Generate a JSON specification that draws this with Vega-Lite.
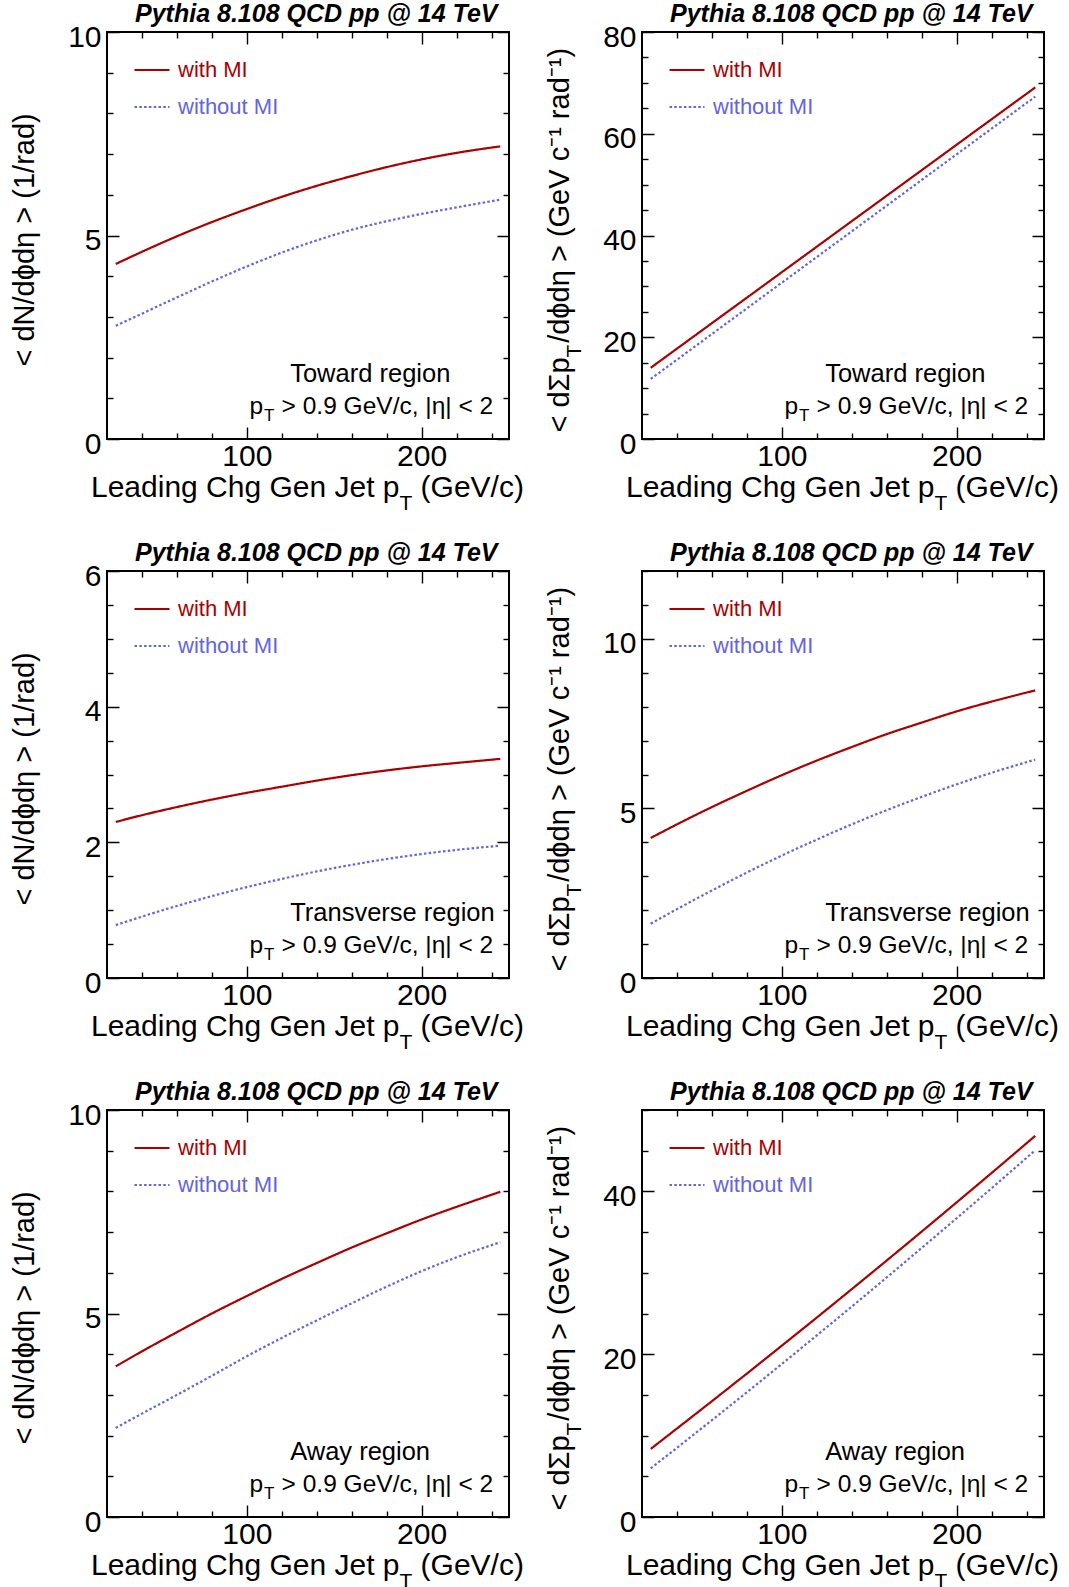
{
  "$schema": "https://vega.github.io/schema/vega-lite/v6.json",
  "background": "white",
  "padding": {"left": 8, "top": 0, "right": 4, "bottom": 0},
  "columns": 2,
  "spacing": {"row": 132, "column": 133},
  "bounds": "flush",
  "resolve": {"scale": {"color": "independent", "strokeDash": "independent"}},
  "datasets": {
    "towardN": [
      {"series": "with MI", "pt": 25, "val": 4.30}, {"series": "with MI", "pt": 40, "val": 4.60}, {"series": "with MI", "pt": 60, "val": 4.98}, {"series": "with MI", "pt": 80, "val": 5.33}, {"series": "with MI", "pt": 100, "val": 5.65}, {"series": "with MI", "pt": 120, "val": 5.95}, {"series": "with MI", "pt": 140, "val": 6.22}, {"series": "with MI", "pt": 160, "val": 6.46}, {"series": "with MI", "pt": 180, "val": 6.68}, {"series": "with MI", "pt": 200, "val": 6.87}, {"series": "with MI", "pt": 220, "val": 7.03}, {"series": "with MI", "pt": 245, "val": 7.19},
      {"series": "without MI", "pt": 25, "val": 2.78}, {"series": "without MI", "pt": 40, "val": 3.08}, {"series": "without MI", "pt": 60, "val": 3.48}, {"series": "without MI", "pt": 80, "val": 3.87}, {"series": "without MI", "pt": 100, "val": 4.24}, {"series": "without MI", "pt": 120, "val": 4.58}, {"series": "without MI", "pt": 140, "val": 4.88}, {"series": "without MI", "pt": 160, "val": 5.14}, {"series": "without MI", "pt": 180, "val": 5.35}, {"series": "without MI", "pt": 200, "val": 5.53}, {"series": "without MI", "pt": 220, "val": 5.69}, {"series": "without MI", "pt": 245, "val": 5.88}
    ],
    "towardSum": [
      {"series": "with MI", "pt": 25, "val": 14.0}, {"series": "with MI", "pt": 40, "val": 17.76}, {"series": "with MI", "pt": 60, "val": 22.77}, {"series": "with MI", "pt": 80, "val": 27.78}, {"series": "with MI", "pt": 100, "val": 32.79}, {"series": "with MI", "pt": 120, "val": 37.80}, {"series": "with MI", "pt": 140, "val": 42.81}, {"series": "with MI", "pt": 160, "val": 47.82}, {"series": "with MI", "pt": 180, "val": 52.83}, {"series": "with MI", "pt": 200, "val": 57.84}, {"series": "with MI", "pt": 220, "val": 62.85}, {"series": "with MI", "pt": 245, "val": 69.11},
      {"series": "without MI", "pt": 25, "val": 11.8}, {"series": "without MI", "pt": 40, "val": 15.58}, {"series": "without MI", "pt": 60, "val": 20.63}, {"series": "without MI", "pt": 80, "val": 25.68}, {"series": "without MI", "pt": 100, "val": 30.72}, {"series": "without MI", "pt": 120, "val": 35.77}, {"series": "without MI", "pt": 140, "val": 40.81}, {"series": "without MI", "pt": 160, "val": 45.86}, {"series": "without MI", "pt": 180, "val": 50.91}, {"series": "without MI", "pt": 200, "val": 55.95}, {"series": "without MI", "pt": 220, "val": 61.00}, {"series": "without MI", "pt": 245, "val": 67.30}
    ],
    "transN": [
      {"series": "with MI", "pt": 25, "val": 2.30}, {"series": "with MI", "pt": 40, "val": 2.40}, {"series": "with MI", "pt": 60, "val": 2.52}, {"series": "with MI", "pt": 80, "val": 2.63}, {"series": "with MI", "pt": 100, "val": 2.73}, {"series": "with MI", "pt": 120, "val": 2.82}, {"series": "with MI", "pt": 140, "val": 2.91}, {"series": "with MI", "pt": 160, "val": 2.99}, {"series": "with MI", "pt": 180, "val": 3.06}, {"series": "with MI", "pt": 200, "val": 3.12}, {"series": "with MI", "pt": 220, "val": 3.17}, {"series": "with MI", "pt": 245, "val": 3.23},
      {"series": "without MI", "pt": 25, "val": 0.78}, {"series": "without MI", "pt": 40, "val": 0.905}, {"series": "without MI", "pt": 60, "val": 1.062}, {"series": "without MI", "pt": 80, "val": 1.207}, {"series": "without MI", "pt": 100, "val": 1.34}, {"series": "without MI", "pt": 120, "val": 1.461}, {"series": "without MI", "pt": 140, "val": 1.571}, {"series": "without MI", "pt": 160, "val": 1.668}, {"series": "without MI", "pt": 180, "val": 1.754}, {"series": "without MI", "pt": 200, "val": 1.827}, {"series": "without MI", "pt": 220, "val": 1.889}, {"series": "without MI", "pt": 245, "val": 1.95}
    ],
    "transSum": [
      {"series": "with MI", "pt": 25, "val": 4.13}, {"series": "with MI", "pt": 40, "val": 4.53}, {"series": "with MI", "pt": 60, "val": 5.04}, {"series": "with MI", "pt": 80, "val": 5.52}, {"series": "with MI", "pt": 100, "val": 5.98}, {"series": "with MI", "pt": 120, "val": 6.41}, {"series": "with MI", "pt": 140, "val": 6.81}, {"series": "with MI", "pt": 160, "val": 7.19}, {"series": "with MI", "pt": 180, "val": 7.53}, {"series": "with MI", "pt": 200, "val": 7.86}, {"series": "with MI", "pt": 220, "val": 8.15}, {"series": "with MI", "pt": 245, "val": 8.48},
      {"series": "without MI", "pt": 25, "val": 1.60}, {"series": "without MI", "pt": 40, "val": 2.03}, {"series": "without MI", "pt": 60, "val": 2.58}, {"series": "without MI", "pt": 80, "val": 3.11}, {"series": "without MI", "pt": 100, "val": 3.61}, {"series": "without MI", "pt": 120, "val": 4.08}, {"series": "without MI", "pt": 140, "val": 4.53}, {"series": "without MI", "pt": 160, "val": 4.95}, {"series": "without MI", "pt": 180, "val": 5.34}, {"series": "without MI", "pt": 200, "val": 5.71}, {"series": "without MI", "pt": 220, "val": 6.05}, {"series": "without MI", "pt": 245, "val": 6.44}
    ],
    "awayN": [
      {"series": "with MI", "pt": 25, "val": 3.70}, {"series": "with MI", "pt": 40, "val": 4.07}, {"series": "with MI", "pt": 60, "val": 4.54}, {"series": "with MI", "pt": 80, "val": 5.00}, {"series": "with MI", "pt": 100, "val": 5.43}, {"series": "with MI", "pt": 120, "val": 5.85}, {"series": "with MI", "pt": 140, "val": 6.24}, {"series": "with MI", "pt": 160, "val": 6.62}, {"series": "with MI", "pt": 180, "val": 6.97}, {"series": "with MI", "pt": 200, "val": 7.31}, {"series": "with MI", "pt": 220, "val": 7.62}, {"series": "with MI", "pt": 245, "val": 7.99},
      {"series": "without MI", "pt": 25, "val": 2.19}, {"series": "without MI", "pt": 40, "val": 2.54}, {"series": "without MI", "pt": 60, "val": 3.00}, {"series": "without MI", "pt": 80, "val": 3.47}, {"series": "without MI", "pt": 100, "val": 3.95}, {"series": "without MI", "pt": 120, "val": 4.40}, {"series": "without MI", "pt": 140, "val": 4.83}, {"series": "without MI", "pt": 160, "val": 5.25}, {"series": "without MI", "pt": 180, "val": 5.66}, {"series": "without MI", "pt": 200, "val": 6.04}, {"series": "without MI", "pt": 220, "val": 6.38}, {"series": "without MI", "pt": 245, "val": 6.75}
    ],
    "awaySum": [
      {"series": "with MI", "pt": 25, "val": 8.37}, {"series": "with MI", "pt": 40, "val": 10.87}, {"series": "with MI", "pt": 60, "val": 14.23}, {"series": "with MI", "pt": 80, "val": 17.62}, {"series": "with MI", "pt": 100, "val": 21.05}, {"series": "with MI", "pt": 120, "val": 24.50}, {"series": "with MI", "pt": 140, "val": 27.99}, {"series": "with MI", "pt": 160, "val": 31.51}, {"series": "with MI", "pt": 180, "val": 35.06}, {"series": "with MI", "pt": 200, "val": 38.65}, {"series": "with MI", "pt": 220, "val": 42.26}, {"series": "with MI", "pt": 245, "val": 46.83},
      {"series": "without MI", "pt": 25, "val": 5.98}, {"series": "without MI", "pt": 40, "val": 8.50}, {"series": "without MI", "pt": 60, "val": 11.90}, {"series": "without MI", "pt": 80, "val": 15.33}, {"series": "without MI", "pt": 100, "val": 18.80}, {"series": "without MI", "pt": 120, "val": 22.31}, {"series": "without MI", "pt": 140, "val": 25.85}, {"series": "without MI", "pt": 160, "val": 29.43}, {"series": "without MI", "pt": 180, "val": 33.05}, {"series": "without MI", "pt": 200, "val": 36.70}, {"series": "without MI", "pt": 220, "val": 40.39}, {"series": "without MI", "pt": 245, "val": 45.05}
    ],
    "noteToward": [{"region": "Toward region", "p": "p", "sub": "T", "cut": "> 0.9 GeV/c, |η| < 2"}],
    "noteTrans": [{"region": "Transverse region", "p": "p", "sub": "T", "cut": "> 0.9 GeV/c, |η| < 2"}],
    "noteAway": [{"region": "Away region", "p": "p", "sub": "T", "cut": "> 0.9 GeV/c, |η| < 2"}]
  },
  "concat": [
    {
      "width": 402, "height": 407,
      "layer": [
        {
          "data": {"name": "towardN"},
          "mark": {"type": "line", "interpolate": "monotone", "strokeWidth": 2.2},
          "encoding": {
            "x": {"field": "pt", "type": "quantitative", "scale": {"domain": [20, 250], "nice": false, "zero": false}, "axis": {"orient": "bottom", "values": [40, 60, 80, 100, 120, 140, 160, 180, 200, 220, 240], "labelPadding": 14, "labelExpr": "datum.value % 100 === 0 ? format(datum.value, 'd') : ''", "tickDash": {"condition": {"test": "datum.value % 100 !== 0", "value": [6, 40]}, "value": [1, 0]}, "title": "Leading Chg Gen Jet p\u2002\u2009(GeV/c)", "titleX": -16.5, "titleY": 57, "titleAlign": "left", "titleBaseline": "alphabetic", "titleAngle": 0}},
            "y": {"field": "val", "type": "quantitative", "scale": {"domain": [0, 10], "nice": false, "zero": false}, "axis": {"orient": "left", "values": [0, 1, 2, 3, 4, 5, 6, 7, 8, 9, 10], "labelExpr": "datum.value % 5 === 0 ? format(datum.value, 'd') : ''", "labelOffset": 5, "tickDash": {"condition": {"test": "datum.value % 5 !== 0", "value": [6, 40]}, "value": [1, 0]}, "title": "< dN/dϕdη > (1/rad)", "titleX": -74, "titleY": 334, "titleAlign": "left", "titleAngle": 270, "titleBaseline": "alphabetic", "titleFontSize": 29}},
            "color": {"field": "series", "type": "nominal", "scale": {"domain": ["with MI", "without MI"], "range": ["#aa0000", "#6464dc"]}, "legend": {"title": null, "orient": "none", "legendX": 26, "legendY": 19, "symbolType": "stroke", "symbolSize": 1225, "symbolStrokeWidth": 2.2, "labelFont": "Liberation Sans", "labelFontSize": 22, "labelOffset": 7, "rowPadding": 7, "padding": 0, "encode": {"labels": {"update": {"fill": {"signal": "datum.value === 'with MI' ? '#aa0000' : '#6464dc'"}}}}}},
            "strokeDash": {"field": "series", "type": "nominal", "scale": {"domain": ["with MI", "without MI"], "range": [[1, 0], [2.5, 2.3]]}, "legend": {"title": null, "orient": "none", "legendX": 26, "legendY": 19, "symbolType": "stroke", "symbolSize": 1225, "symbolStrokeWidth": 2.2, "labelFont": "Liberation Sans", "labelFontSize": 22, "labelOffset": 7, "rowPadding": 7, "padding": 0}}
          }
        },
        {
          "data": {"name": "noteToward"},
          "mark": {"type": "text", "align": "left", "baseline": "alphabetic", "font": "Liberation Sans", "fontSize": 25.5, "color": "black"},
          "encoding": {
            "text": {"field": "region"},
            "x": {"datum": 124.8, "type": "quantitative", "scale": {"domain": [20, 250], "nice": false, "zero": false}, "axis": {"orient": "top", "values": [40, 60, 80, 100, 120, 140, 160, 180, 200, 220, 240], "labels": false, "tickDash": {"condition": {"test": "datum.value % 100 !== 0", "value": [6, 40]}, "value": [1, 0]}, "title": "Pythia 8.108 QCD pp @ 14 TeV", "titleX": 390, "titleY": -11, "titleAlign": "right", "titleBaseline": "alphabetic", "titleAngle": 0, "titleFontSize": 25, "titleFontWeight": "bold", "titleFontStyle": "italic"}},
            "y": {"datum": 1.40, "type": "quantitative", "scale": {"domain": [0, 10], "nice": false, "zero": false}, "axis": {"orient": "right", "values": [0, 1, 2, 3, 4, 5, 6, 7, 8, 9, 10], "labels": false, "tickDash": {"condition": {"test": "datum.value % 5 !== 0", "value": [6, 40]}, "value": [1, 0]}, "title": null}}
          }
        },
        {
          "data": {"name": "noteToward"},
          "mark": {"type": "text", "align": "left", "baseline": "alphabetic", "font": "Liberation Sans", "fontSize": 24.5, "color": "black"},
          "encoding": {"text": {"field": "p"}, "x": {"datum": 101.6, "type": "quantitative", "scale": {"domain": [20, 250], "nice": false, "zero": false}, "axis": {"orient": "bottom", "ticks": false, "labels": false, "domain": false, "title": "T", "titleX": 292, "titleY": 70, "titleAlign": "left", "titleBaseline": "alphabetic", "titleAngle": 0, "titleFontSize": 21}}, "y": {"datum": 0.614, "type": "quantitative", "scale": {"domain": [0, 10], "nice": false, "zero": false}, "axis": null}}
        },
        {
          "data": {"name": "noteToward"},
          "mark": {"type": "text", "align": "left", "baseline": "alphabetic", "font": "Liberation Sans", "fontSize": 17, "dx": 14.5, "dy": 7, "color": "black"},
          "encoding": {"text": {"field": "sub"}, "x": {"datum": 101.6, "type": "quantitative", "scale": {"domain": [20, 250], "nice": false, "zero": false}, "axis": null}, "y": {"datum": 0.614, "type": "quantitative", "scale": {"domain": [0, 10], "nice": false, "zero": false}, "axis": null}}
        },
        {
          "data": {"name": "noteToward"},
          "mark": {"type": "text", "align": "left", "baseline": "alphabetic", "font": "Liberation Sans", "fontSize": 24.5, "dx": 32, "color": "black"},
          "encoding": {"text": {"field": "cut"}, "x": {"datum": 101.6, "type": "quantitative", "scale": {"domain": [20, 250], "nice": false, "zero": false}, "axis": null}, "y": {"datum": 0.614, "type": "quantitative", "scale": {"domain": [0, 10], "nice": false, "zero": false}, "axis": null}}
        }
      ],
      "resolve": {"axis": {"x": "independent", "y": "independent"}}
    },
    {
      "width": 402, "height": 407,
      "layer": [
        {
          "data": {"name": "towardSum"},
          "mark": {"type": "line", "interpolate": "monotone", "strokeWidth": 2.2},
          "encoding": {
            "x": {"field": "pt", "type": "quantitative", "scale": {"domain": [20, 250], "nice": false, "zero": false}, "axis": {"orient": "bottom", "values": [40, 60, 80, 100, 120, 140, 160, 180, 200, 220, 240], "labelPadding": 14, "labelExpr": "datum.value % 100 === 0 ? format(datum.value, 'd') : ''", "tickDash": {"condition": {"test": "datum.value % 100 !== 0", "value": [6, 40]}, "value": [1, 0]}, "title": "Leading Chg Gen Jet p\u2002\u2009(GeV/c)", "titleX": -16.5, "titleY": 57, "titleAlign": "left", "titleBaseline": "alphabetic", "titleAngle": 0}},
            "y": {"field": "val", "type": "quantitative", "scale": {"domain": [0, 80], "nice": false, "zero": false}, "axis": {"orient": "left", "values": [0, 5, 10, 15, 20, 25, 30, 35, 40, 45, 50, 55, 60, 65, 70, 75, 80], "labelExpr": "datum.value % 20 === 0 ? format(datum.value, 'd') : ''", "labelOffset": 5, "tickDash": {"condition": {"test": "datum.value % 20 !== 0", "value": [6, 40]}, "value": [1, 0]}, "title": "< dΣp\u2002/dϕdη > (GeV c⁻¹ rad⁻¹)", "titleX": -74, "titleY": 400, "titleAlign": "left", "titleAngle": 270, "titleBaseline": "alphabetic", "titleFontSize": 29}},
            "color": {"field": "series", "type": "nominal", "scale": {"domain": ["with MI", "without MI"], "range": ["#aa0000", "#6464dc"]}, "legend": {"title": null, "orient": "none", "legendX": 26, "legendY": 19, "symbolType": "stroke", "symbolSize": 1225, "symbolStrokeWidth": 2.2, "labelFont": "Liberation Sans", "labelFontSize": 22, "labelOffset": 7, "rowPadding": 7, "padding": 0, "encode": {"labels": {"update": {"fill": {"signal": "datum.value === 'with MI' ? '#aa0000' : '#6464dc'"}}}}}},
            "strokeDash": {"field": "series", "type": "nominal", "scale": {"domain": ["with MI", "without MI"], "range": [[1, 0], [2.5, 2.3]]}, "legend": {"title": null, "orient": "none", "legendX": 26, "legendY": 19, "symbolType": "stroke", "symbolSize": 1225, "symbolStrokeWidth": 2.2, "labelFont": "Liberation Sans", "labelFontSize": 22, "labelOffset": 7, "rowPadding": 7, "padding": 0}}
          }
        },
        {
          "data": {"name": "noteToward"},
          "mark": {"type": "text", "align": "left", "baseline": "alphabetic", "font": "Liberation Sans", "fontSize": 25.5, "color": "black"},
          "encoding": {
            "text": {"field": "region"},
            "x": {"datum": 124.8, "type": "quantitative", "scale": {"domain": [20, 250], "nice": false, "zero": false}, "axis": {"orient": "top", "values": [40, 60, 80, 100, 120, 140, 160, 180, 200, 220, 240], "labels": false, "tickDash": {"condition": {"test": "datum.value % 100 !== 0", "value": [6, 40]}, "value": [1, 0]}, "title": "Pythia 8.108 QCD pp @ 14 TeV", "titleX": 390, "titleY": -11, "titleAlign": "right", "titleBaseline": "alphabetic", "titleAngle": 0, "titleFontSize": 25, "titleFontWeight": "bold", "titleFontStyle": "italic"}},
            "y": {"datum": 11.2, "type": "quantitative", "scale": {"domain": [0, 80], "nice": false, "zero": false}, "axis": {"orient": "right", "values": [0, 5, 10, 15, 20, 25, 30, 35, 40, 45, 50, 55, 60, 65, 70, 75, 80], "labels": false, "tickDash": {"condition": {"test": "datum.value % 20 !== 0", "value": [6, 40]}, "value": [1, 0]}, "title": "T", "titleX": -464, "titleY": 325, "titleAlign": "left", "titleBaseline": "alphabetic", "titleAngle": 270, "titleFontSize": 21}}
          }
        },
        {
          "data": {"name": "noteToward"},
          "mark": {"type": "text", "align": "left", "baseline": "alphabetic", "font": "Liberation Sans", "fontSize": 24.5, "color": "black"},
          "encoding": {"text": {"field": "p"}, "x": {"datum": 101.6, "type": "quantitative", "scale": {"domain": [20, 250], "nice": false, "zero": false}, "axis": {"orient": "bottom", "ticks": false, "labels": false, "domain": false, "title": "T", "titleX": 292, "titleY": 70, "titleAlign": "left", "titleBaseline": "alphabetic", "titleAngle": 0, "titleFontSize": 21}}, "y": {"datum": 4.91, "type": "quantitative", "scale": {"domain": [0, 80], "nice": false, "zero": false}, "axis": null}}
        },
        {
          "data": {"name": "noteToward"},
          "mark": {"type": "text", "align": "left", "baseline": "alphabetic", "font": "Liberation Sans", "fontSize": 17, "dx": 14.5, "dy": 7, "color": "black"},
          "encoding": {"text": {"field": "sub"}, "x": {"datum": 101.6, "type": "quantitative", "scale": {"domain": [20, 250], "nice": false, "zero": false}, "axis": null}, "y": {"datum": 4.91, "type": "quantitative", "scale": {"domain": [0, 80], "nice": false, "zero": false}, "axis": null}}
        },
        {
          "data": {"name": "noteToward"},
          "mark": {"type": "text", "align": "left", "baseline": "alphabetic", "font": "Liberation Sans", "fontSize": 24.5, "dx": 32, "color": "black"},
          "encoding": {"text": {"field": "cut"}, "x": {"datum": 101.6, "type": "quantitative", "scale": {"domain": [20, 250], "nice": false, "zero": false}, "axis": null}, "y": {"datum": 4.91, "type": "quantitative", "scale": {"domain": [0, 80], "nice": false, "zero": false}, "axis": null}}
        }
      ],
      "resolve": {"axis": {"x": "independent", "y": "independent"}}
    },
    {
      "width": 402, "height": 407,
      "layer": [
        {
          "data": {"name": "transN"},
          "mark": {"type": "line", "interpolate": "monotone", "strokeWidth": 2.2},
          "encoding": {
            "x": {"field": "pt", "type": "quantitative", "scale": {"domain": [20, 250], "nice": false, "zero": false}, "axis": {"orient": "bottom", "values": [40, 60, 80, 100, 120, 140, 160, 180, 200, 220, 240], "labelPadding": 14, "labelExpr": "datum.value % 100 === 0 ? format(datum.value, 'd') : ''", "tickDash": {"condition": {"test": "datum.value % 100 !== 0", "value": [6, 40]}, "value": [1, 0]}, "title": "Leading Chg Gen Jet p\u2002\u2009(GeV/c)", "titleX": -16.5, "titleY": 57, "titleAlign": "left", "titleBaseline": "alphabetic", "titleAngle": 0}},
            "y": {"field": "val", "type": "quantitative", "scale": {"domain": [0, 6], "nice": false, "zero": false}, "axis": {"orient": "left", "values": [0, 0.5, 1, 1.5, 2, 2.5, 3, 3.5, 4, 4.5, 5, 5.5, 6], "labelExpr": "datum.value % 2 === 0 ? format(datum.value, 'd') : ''", "labelOffset": 5, "tickDash": {"condition": {"test": "datum.value % 2 !== 0", "value": [6, 40]}, "value": [1, 0]}, "title": "< dN/dϕdη > (1/rad)", "titleX": -74, "titleY": 334, "titleAlign": "left", "titleAngle": 270, "titleBaseline": "alphabetic", "titleFontSize": 29}},
            "color": {"field": "series", "type": "nominal", "scale": {"domain": ["with MI", "without MI"], "range": ["#aa0000", "#6464dc"]}, "legend": {"title": null, "orient": "none", "legendX": 26, "legendY": 19, "symbolType": "stroke", "symbolSize": 1225, "symbolStrokeWidth": 2.2, "labelFont": "Liberation Sans", "labelFontSize": 22, "labelOffset": 7, "rowPadding": 7, "padding": 0, "encode": {"labels": {"update": {"fill": {"signal": "datum.value === 'with MI' ? '#aa0000' : '#6464dc'"}}}}}},
            "strokeDash": {"field": "series", "type": "nominal", "scale": {"domain": ["with MI", "without MI"], "range": [[1, 0], [2.5, 2.3]]}, "legend": {"title": null, "orient": "none", "legendX": 26, "legendY": 19, "symbolType": "stroke", "symbolSize": 1225, "symbolStrokeWidth": 2.2, "labelFont": "Liberation Sans", "labelFontSize": 22, "labelOffset": 7, "rowPadding": 7, "padding": 0}}
          }
        },
        {
          "data": {"name": "noteTrans"},
          "mark": {"type": "text", "align": "left", "baseline": "alphabetic", "font": "Liberation Sans", "fontSize": 25.5, "color": "black"},
          "encoding": {
            "text": {"field": "region"},
            "x": {"datum": 124.8, "type": "quantitative", "scale": {"domain": [20, 250], "nice": false, "zero": false}, "axis": {"orient": "top", "values": [40, 60, 80, 100, 120, 140, 160, 180, 200, 220, 240], "labels": false, "tickDash": {"condition": {"test": "datum.value % 100 !== 0", "value": [6, 40]}, "value": [1, 0]}, "title": "Pythia 8.108 QCD pp @ 14 TeV", "titleX": 390, "titleY": -11, "titleAlign": "right", "titleBaseline": "alphabetic", "titleAngle": 0, "titleFontSize": 25, "titleFontWeight": "bold", "titleFontStyle": "italic"}},
            "y": {"datum": 0.84, "type": "quantitative", "scale": {"domain": [0, 6], "nice": false, "zero": false}, "axis": {"orient": "right", "values": [0, 0.5, 1, 1.5, 2, 2.5, 3, 3.5, 4, 4.5, 5, 5.5, 6], "labels": false, "tickDash": {"condition": {"test": "datum.value % 2 !== 0", "value": [6, 40]}, "value": [1, 0]}, "title": null}}
          }
        },
        {
          "data": {"name": "noteTrans"},
          "mark": {"type": "text", "align": "left", "baseline": "alphabetic", "font": "Liberation Sans", "fontSize": 24.5, "color": "black"},
          "encoding": {"text": {"field": "p"}, "x": {"datum": 101.6, "type": "quantitative", "scale": {"domain": [20, 250], "nice": false, "zero": false}, "axis": {"orient": "bottom", "ticks": false, "labels": false, "domain": false, "title": "T", "titleX": 292, "titleY": 70, "titleAlign": "left", "titleBaseline": "alphabetic", "titleAngle": 0, "titleFontSize": 21}}, "y": {"datum": 0.368, "type": "quantitative", "scale": {"domain": [0, 6], "nice": false, "zero": false}, "axis": null}}
        },
        {
          "data": {"name": "noteTrans"},
          "mark": {"type": "text", "align": "left", "baseline": "alphabetic", "font": "Liberation Sans", "fontSize": 17, "dx": 14.5, "dy": 7, "color": "black"},
          "encoding": {"text": {"field": "sub"}, "x": {"datum": 101.6, "type": "quantitative", "scale": {"domain": [20, 250], "nice": false, "zero": false}, "axis": null}, "y": {"datum": 0.368, "type": "quantitative", "scale": {"domain": [0, 6], "nice": false, "zero": false}, "axis": null}}
        },
        {
          "data": {"name": "noteTrans"},
          "mark": {"type": "text", "align": "left", "baseline": "alphabetic", "font": "Liberation Sans", "fontSize": 24.5, "dx": 32, "color": "black"},
          "encoding": {"text": {"field": "cut"}, "x": {"datum": 101.6, "type": "quantitative", "scale": {"domain": [20, 250], "nice": false, "zero": false}, "axis": null}, "y": {"datum": 0.368, "type": "quantitative", "scale": {"domain": [0, 6], "nice": false, "zero": false}, "axis": null}}
        }
      ],
      "resolve": {"axis": {"x": "independent", "y": "independent"}}
    },
    {
      "width": 402, "height": 407,
      "layer": [
        {
          "data": {"name": "transSum"},
          "mark": {"type": "line", "interpolate": "monotone", "strokeWidth": 2.2},
          "encoding": {
            "x": {"field": "pt", "type": "quantitative", "scale": {"domain": [20, 250], "nice": false, "zero": false}, "axis": {"orient": "bottom", "values": [40, 60, 80, 100, 120, 140, 160, 180, 200, 220, 240], "labelPadding": 14, "labelExpr": "datum.value % 100 === 0 ? format(datum.value, 'd') : ''", "tickDash": {"condition": {"test": "datum.value % 100 !== 0", "value": [6, 40]}, "value": [1, 0]}, "title": "Leading Chg Gen Jet p\u2002\u2009(GeV/c)", "titleX": -16.5, "titleY": 57, "titleAlign": "left", "titleBaseline": "alphabetic", "titleAngle": 0}},
            "y": {"field": "val", "type": "quantitative", "scale": {"domain": [0, 12], "nice": false, "zero": false}, "axis": {"orient": "left", "values": [0, 1, 2, 3, 4, 5, 6, 7, 8, 9, 10, 11, 12], "labelExpr": "datum.value % 5 === 0 ? format(datum.value, 'd') : ''", "labelOffset": 5, "tickDash": {"condition": {"test": "datum.value % 5 !== 0", "value": [6, 40]}, "value": [1, 0]}, "title": "< dΣp\u2002/dϕdη > (GeV c⁻¹ rad⁻¹)", "titleX": -74, "titleY": 400, "titleAlign": "left", "titleAngle": 270, "titleBaseline": "alphabetic", "titleFontSize": 29}},
            "color": {"field": "series", "type": "nominal", "scale": {"domain": ["with MI", "without MI"], "range": ["#aa0000", "#6464dc"]}, "legend": {"title": null, "orient": "none", "legendX": 26, "legendY": 19, "symbolType": "stroke", "symbolSize": 1225, "symbolStrokeWidth": 2.2, "labelFont": "Liberation Sans", "labelFontSize": 22, "labelOffset": 7, "rowPadding": 7, "padding": 0, "encode": {"labels": {"update": {"fill": {"signal": "datum.value === 'with MI' ? '#aa0000' : '#6464dc'"}}}}}},
            "strokeDash": {"field": "series", "type": "nominal", "scale": {"domain": ["with MI", "without MI"], "range": [[1, 0], [2.5, 2.3]]}, "legend": {"title": null, "orient": "none", "legendX": 26, "legendY": 19, "symbolType": "stroke", "symbolSize": 1225, "symbolStrokeWidth": 2.2, "labelFont": "Liberation Sans", "labelFontSize": 22, "labelOffset": 7, "rowPadding": 7, "padding": 0}}
          }
        },
        {
          "data": {"name": "noteTrans"},
          "mark": {"type": "text", "align": "left", "baseline": "alphabetic", "font": "Liberation Sans", "fontSize": 25.5, "color": "black"},
          "encoding": {
            "text": {"field": "region"},
            "x": {"datum": 124.8, "type": "quantitative", "scale": {"domain": [20, 250], "nice": false, "zero": false}, "axis": {"orient": "top", "values": [40, 60, 80, 100, 120, 140, 160, 180, 200, 220, 240], "labels": false, "tickDash": {"condition": {"test": "datum.value % 100 !== 0", "value": [6, 40]}, "value": [1, 0]}, "title": "Pythia 8.108 QCD pp @ 14 TeV", "titleX": 390, "titleY": -11, "titleAlign": "right", "titleBaseline": "alphabetic", "titleAngle": 0, "titleFontSize": 25, "titleFontWeight": "bold", "titleFontStyle": "italic"}},
            "y": {"datum": 1.68, "type": "quantitative", "scale": {"domain": [0, 12], "nice": false, "zero": false}, "axis": {"orient": "right", "values": [0, 1, 2, 3, 4, 5, 6, 7, 8, 9, 10, 11, 12], "labels": false, "tickDash": {"condition": {"test": "datum.value % 5 !== 0", "value": [6, 40]}, "value": [1, 0]}, "title": "T", "titleX": -464, "titleY": 325, "titleAlign": "left", "titleBaseline": "alphabetic", "titleAngle": 270, "titleFontSize": 21}}
          }
        },
        {
          "data": {"name": "noteTrans"},
          "mark": {"type": "text", "align": "left", "baseline": "alphabetic", "font": "Liberation Sans", "fontSize": 24.5, "color": "black"},
          "encoding": {"text": {"field": "p"}, "x": {"datum": 101.6, "type": "quantitative", "scale": {"domain": [20, 250], "nice": false, "zero": false}, "axis": {"orient": "bottom", "ticks": false, "labels": false, "domain": false, "title": "T", "titleX": 292, "titleY": 70, "titleAlign": "left", "titleBaseline": "alphabetic", "titleAngle": 0, "titleFontSize": 21}}, "y": {"datum": 0.737, "type": "quantitative", "scale": {"domain": [0, 12], "nice": false, "zero": false}, "axis": null}}
        },
        {
          "data": {"name": "noteTrans"},
          "mark": {"type": "text", "align": "left", "baseline": "alphabetic", "font": "Liberation Sans", "fontSize": 17, "dx": 14.5, "dy": 7, "color": "black"},
          "encoding": {"text": {"field": "sub"}, "x": {"datum": 101.6, "type": "quantitative", "scale": {"domain": [20, 250], "nice": false, "zero": false}, "axis": null}, "y": {"datum": 0.737, "type": "quantitative", "scale": {"domain": [0, 12], "nice": false, "zero": false}, "axis": null}}
        },
        {
          "data": {"name": "noteTrans"},
          "mark": {"type": "text", "align": "left", "baseline": "alphabetic", "font": "Liberation Sans", "fontSize": 24.5, "dx": 32, "color": "black"},
          "encoding": {"text": {"field": "cut"}, "x": {"datum": 101.6, "type": "quantitative", "scale": {"domain": [20, 250], "nice": false, "zero": false}, "axis": null}, "y": {"datum": 0.737, "type": "quantitative", "scale": {"domain": [0, 12], "nice": false, "zero": false}, "axis": null}}
        }
      ],
      "resolve": {"axis": {"x": "independent", "y": "independent"}}
    },
    {
      "width": 402, "height": 407,
      "layer": [
        {
          "data": {"name": "awayN"},
          "mark": {"type": "line", "interpolate": "monotone", "strokeWidth": 2.2},
          "encoding": {
            "x": {"field": "pt", "type": "quantitative", "scale": {"domain": [20, 250], "nice": false, "zero": false}, "axis": {"orient": "bottom", "values": [40, 60, 80, 100, 120, 140, 160, 180, 200, 220, 240], "labelPadding": 14, "labelExpr": "datum.value % 100 === 0 ? format(datum.value, 'd') : ''", "tickDash": {"condition": {"test": "datum.value % 100 !== 0", "value": [6, 40]}, "value": [1, 0]}, "title": "Leading Chg Gen Jet p\u2002\u2009(GeV/c)", "titleX": -16.5, "titleY": 57, "titleAlign": "left", "titleBaseline": "alphabetic", "titleAngle": 0}},
            "y": {"field": "val", "type": "quantitative", "scale": {"domain": [0, 10], "nice": false, "zero": false}, "axis": {"orient": "left", "values": [0, 1, 2, 3, 4, 5, 6, 7, 8, 9, 10], "labelExpr": "datum.value % 5 === 0 ? format(datum.value, 'd') : ''", "labelOffset": 5, "tickDash": {"condition": {"test": "datum.value % 5 !== 0", "value": [6, 40]}, "value": [1, 0]}, "title": "< dN/dϕdη > (1/rad)", "titleX": -74, "titleY": 334, "titleAlign": "left", "titleAngle": 270, "titleBaseline": "alphabetic", "titleFontSize": 29}},
            "color": {"field": "series", "type": "nominal", "scale": {"domain": ["with MI", "without MI"], "range": ["#aa0000", "#6464dc"]}, "legend": {"title": null, "orient": "none", "legendX": 26, "legendY": 19, "symbolType": "stroke", "symbolSize": 1225, "symbolStrokeWidth": 2.2, "labelFont": "Liberation Sans", "labelFontSize": 22, "labelOffset": 7, "rowPadding": 7, "padding": 0, "encode": {"labels": {"update": {"fill": {"signal": "datum.value === 'with MI' ? '#aa0000' : '#6464dc'"}}}}}},
            "strokeDash": {"field": "series", "type": "nominal", "scale": {"domain": ["with MI", "without MI"], "range": [[1, 0], [2.5, 2.3]]}, "legend": {"title": null, "orient": "none", "legendX": 26, "legendY": 19, "symbolType": "stroke", "symbolSize": 1225, "symbolStrokeWidth": 2.2, "labelFont": "Liberation Sans", "labelFontSize": 22, "labelOffset": 7, "rowPadding": 7, "padding": 0}}
          }
        },
        {
          "data": {"name": "noteAway"},
          "mark": {"type": "text", "align": "left", "baseline": "alphabetic", "font": "Liberation Sans", "fontSize": 25.5, "color": "black"},
          "encoding": {
            "text": {"field": "region"},
            "x": {"datum": 124.8, "type": "quantitative", "scale": {"domain": [20, 250], "nice": false, "zero": false}, "axis": {"orient": "top", "values": [40, 60, 80, 100, 120, 140, 160, 180, 200, 220, 240], "labels": false, "tickDash": {"condition": {"test": "datum.value % 100 !== 0", "value": [6, 40]}, "value": [1, 0]}, "title": "Pythia 8.108 QCD pp @ 14 TeV", "titleX": 390, "titleY": -11, "titleAlign": "right", "titleBaseline": "alphabetic", "titleAngle": 0, "titleFontSize": 25, "titleFontWeight": "bold", "titleFontStyle": "italic"}},
            "y": {"datum": 1.40, "type": "quantitative", "scale": {"domain": [0, 10], "nice": false, "zero": false}, "axis": {"orient": "right", "values": [0, 1, 2, 3, 4, 5, 6, 7, 8, 9, 10], "labels": false, "tickDash": {"condition": {"test": "datum.value % 5 !== 0", "value": [6, 40]}, "value": [1, 0]}, "title": null}}
          }
        },
        {
          "data": {"name": "noteAway"},
          "mark": {"type": "text", "align": "left", "baseline": "alphabetic", "font": "Liberation Sans", "fontSize": 24.5, "color": "black"},
          "encoding": {"text": {"field": "p"}, "x": {"datum": 101.6, "type": "quantitative", "scale": {"domain": [20, 250], "nice": false, "zero": false}, "axis": {"orient": "bottom", "ticks": false, "labels": false, "domain": false, "title": "T", "titleX": 292, "titleY": 70, "titleAlign": "left", "titleBaseline": "alphabetic", "titleAngle": 0, "titleFontSize": 21}}, "y": {"datum": 0.614, "type": "quantitative", "scale": {"domain": [0, 10], "nice": false, "zero": false}, "axis": null}}
        },
        {
          "data": {"name": "noteAway"},
          "mark": {"type": "text", "align": "left", "baseline": "alphabetic", "font": "Liberation Sans", "fontSize": 17, "dx": 14.5, "dy": 7, "color": "black"},
          "encoding": {"text": {"field": "sub"}, "x": {"datum": 101.6, "type": "quantitative", "scale": {"domain": [20, 250], "nice": false, "zero": false}, "axis": null}, "y": {"datum": 0.614, "type": "quantitative", "scale": {"domain": [0, 10], "nice": false, "zero": false}, "axis": null}}
        },
        {
          "data": {"name": "noteAway"},
          "mark": {"type": "text", "align": "left", "baseline": "alphabetic", "font": "Liberation Sans", "fontSize": 24.5, "dx": 32, "color": "black"},
          "encoding": {"text": {"field": "cut"}, "x": {"datum": 101.6, "type": "quantitative", "scale": {"domain": [20, 250], "nice": false, "zero": false}, "axis": null}, "y": {"datum": 0.614, "type": "quantitative", "scale": {"domain": [0, 10], "nice": false, "zero": false}, "axis": null}}
        }
      ],
      "resolve": {"axis": {"x": "independent", "y": "independent"}}
    },
    {
      "width": 402, "height": 407,
      "layer": [
        {
          "data": {"name": "awaySum"},
          "mark": {"type": "line", "interpolate": "monotone", "strokeWidth": 2.2},
          "encoding": {
            "x": {"field": "pt", "type": "quantitative", "scale": {"domain": [20, 250], "nice": false, "zero": false}, "axis": {"orient": "bottom", "values": [40, 60, 80, 100, 120, 140, 160, 180, 200, 220, 240], "labelPadding": 14, "labelExpr": "datum.value % 100 === 0 ? format(datum.value, 'd') : ''", "tickDash": {"condition": {"test": "datum.value % 100 !== 0", "value": [6, 40]}, "value": [1, 0]}, "title": "Leading Chg Gen Jet p\u2002\u2009(GeV/c)", "titleX": -16.5, "titleY": 57, "titleAlign": "left", "titleBaseline": "alphabetic", "titleAngle": 0}},
            "y": {"field": "val", "type": "quantitative", "scale": {"domain": [0, 50], "nice": false, "zero": false}, "axis": {"orient": "left", "values": [0, 5, 10, 15, 20, 25, 30, 35, 40, 45, 50], "labelExpr": "datum.value % 20 === 0 ? format(datum.value, 'd') : ''", "labelOffset": 5, "tickDash": {"condition": {"test": "datum.value % 20 !== 0", "value": [6, 40]}, "value": [1, 0]}, "title": "< dΣp\u2002/dϕdη > (GeV c⁻¹ rad⁻¹)", "titleX": -74, "titleY": 400, "titleAlign": "left", "titleAngle": 270, "titleBaseline": "alphabetic", "titleFontSize": 29}},
            "color": {"field": "series", "type": "nominal", "scale": {"domain": ["with MI", "without MI"], "range": ["#aa0000", "#6464dc"]}, "legend": {"title": null, "orient": "none", "legendX": 26, "legendY": 19, "symbolType": "stroke", "symbolSize": 1225, "symbolStrokeWidth": 2.2, "labelFont": "Liberation Sans", "labelFontSize": 22, "labelOffset": 7, "rowPadding": 7, "padding": 0, "encode": {"labels": {"update": {"fill": {"signal": "datum.value === 'with MI' ? '#aa0000' : '#6464dc'"}}}}}},
            "strokeDash": {"field": "series", "type": "nominal", "scale": {"domain": ["with MI", "without MI"], "range": [[1, 0], [2.5, 2.3]]}, "legend": {"title": null, "orient": "none", "legendX": 26, "legendY": 19, "symbolType": "stroke", "symbolSize": 1225, "symbolStrokeWidth": 2.2, "labelFont": "Liberation Sans", "labelFontSize": 22, "labelOffset": 7, "rowPadding": 7, "padding": 0}}
          }
        },
        {
          "data": {"name": "noteAway"},
          "mark": {"type": "text", "align": "left", "baseline": "alphabetic", "font": "Liberation Sans", "fontSize": 25.5, "color": "black"},
          "encoding": {
            "text": {"field": "region"},
            "x": {"datum": 124.8, "type": "quantitative", "scale": {"domain": [20, 250], "nice": false, "zero": false}, "axis": {"orient": "top", "values": [40, 60, 80, 100, 120, 140, 160, 180, 200, 220, 240], "labels": false, "tickDash": {"condition": {"test": "datum.value % 100 !== 0", "value": [6, 40]}, "value": [1, 0]}, "title": "Pythia 8.108 QCD pp @ 14 TeV", "titleX": 390, "titleY": -11, "titleAlign": "right", "titleBaseline": "alphabetic", "titleAngle": 0, "titleFontSize": 25, "titleFontWeight": "bold", "titleFontStyle": "italic"}},
            "y": {"datum": 7.0, "type": "quantitative", "scale": {"domain": [0, 50], "nice": false, "zero": false}, "axis": {"orient": "right", "values": [0, 5, 10, 15, 20, 25, 30, 35, 40, 45, 50], "labels": false, "tickDash": {"condition": {"test": "datum.value % 20 !== 0", "value": [6, 40]}, "value": [1, 0]}, "title": "T", "titleX": -464, "titleY": 325, "titleAlign": "left", "titleBaseline": "alphabetic", "titleAngle": 270, "titleFontSize": 21}}
          }
        },
        {
          "data": {"name": "noteAway"},
          "mark": {"type": "text", "align": "left", "baseline": "alphabetic", "font": "Liberation Sans", "fontSize": 24.5, "color": "black"},
          "encoding": {"text": {"field": "p"}, "x": {"datum": 101.6, "type": "quantitative", "scale": {"domain": [20, 250], "nice": false, "zero": false}, "axis": {"orient": "bottom", "ticks": false, "labels": false, "domain": false, "title": "T", "titleX": 292, "titleY": 70, "titleAlign": "left", "titleBaseline": "alphabetic", "titleAngle": 0, "titleFontSize": 21}}, "y": {"datum": 3.07, "type": "quantitative", "scale": {"domain": [0, 50], "nice": false, "zero": false}, "axis": null}}
        },
        {
          "data": {"name": "noteAway"},
          "mark": {"type": "text", "align": "left", "baseline": "alphabetic", "font": "Liberation Sans", "fontSize": 17, "dx": 14.5, "dy": 7, "color": "black"},
          "encoding": {"text": {"field": "sub"}, "x": {"datum": 101.6, "type": "quantitative", "scale": {"domain": [20, 250], "nice": false, "zero": false}, "axis": null}, "y": {"datum": 3.07, "type": "quantitative", "scale": {"domain": [0, 50], "nice": false, "zero": false}, "axis": null}}
        },
        {
          "data": {"name": "noteAway"},
          "mark": {"type": "text", "align": "left", "baseline": "alphabetic", "font": "Liberation Sans", "fontSize": 24.5, "dx": 32, "color": "black"},
          "encoding": {"text": {"field": "cut"}, "x": {"datum": 101.6, "type": "quantitative", "scale": {"domain": [20, 250], "nice": false, "zero": false}, "axis": null}, "y": {"datum": 3.07, "type": "quantitative", "scale": {"domain": [0, 50], "nice": false, "zero": false}, "axis": null}}
        }
      ],
      "resolve": {"axis": {"x": "independent", "y": "independent"}}
    }
  ],
  "config": {
    "font": "Liberation Sans",
    "view": {"stroke": "black", "strokeWidth": 2},
    "axis": {"domain": false, "grid": false, "ticks": true, "tickSize": -12, "tickColor": "black", "tickWidth": 1.4, "labelFont": "Liberation Sans", "labelFontSize": 30, "labelColor": "black", "labelPadding": 18, "labelFlush": false, "labelOverlap": false, "titleFont": "Liberation Sans", "titleFontSize": 30, "titleFontWeight": "normal", "titleColor": "black"}
  }
}
